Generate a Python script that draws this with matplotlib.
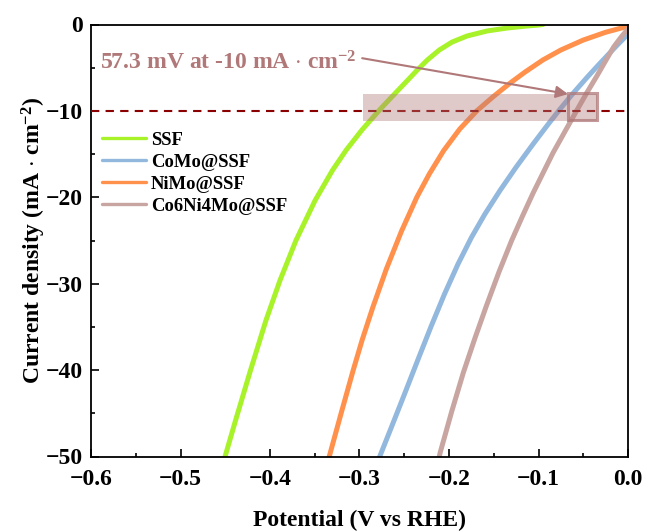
import matplotlib
matplotlib.use("Agg")
import matplotlib.pyplot as plt
from matplotlib.patches import Rectangle
from matplotlib.ticker import MultipleLocator

# LSV curves (potential in V vs RHE, current density in mA cm^-2)
ssf_v = [-0.095, -0.1017, -0.1127, -0.1351, -0.1574, -0.1798, -0.1965, -0.2108, -0.2242, -0.2354,
         -0.2460, -0.2567, -0.2673, -0.2771, -0.2974, -0.3149, -0.3301, -0.3495, -0.3709,
         -0.3888, -0.4045, -0.4218, -0.4385, -0.4502, -0.4506]
ssf_j = [0.0, -0.08, -0.17, -0.41, -0.75, -1.33, -2.03, -2.95, -4.11, -5.27,
         -6.43, -7.59, -8.75, -9.83, -12.22, -14.54, -16.86, -20.34, -24.97,
         -29.61, -34.24, -40.03, -45.83, -50.0, -50.5]

como_v = [0.0, -0.010, -0.020, -0.033, -0.046, -0.060, -0.076, -0.090, -0.106, -0.125, -0.143,
          -0.160, -0.175, -0.190, -0.205, -0.220, -0.235, -0.250, -0.265, -0.277, -0.280]
como_j = [-1.12, -2.17, -3.25, -4.68, -6.15, -7.8, -9.8, -11.65, -13.83, -16.51, -19.21,
          -21.96, -24.66, -27.74, -31.19, -34.94, -38.87, -42.85, -46.78, -49.9, -50.7]

nimo_v = [0.0, -0.025, -0.050, -0.075, -0.095, -0.115, -0.132, -0.150, -0.169, -0.188,
          -0.206, -0.222, -0.236, -0.253, -0.270, -0.285, -0.297, -0.307, -0.320, -0.333, -0.336]
nimo_j = [-0.2, -0.9, -1.8, -2.95, -4.1, -5.5, -6.8, -8.3, -10.0, -12.1,
          -14.6, -17.3, -20.0, -23.9, -28.3, -32.7, -36.5, -40.0, -44.8, -49.7, -50.8]

coni_v = [0.0, -0.008, -0.016, -0.025, -0.035, -0.046, -0.057, -0.070, -0.084, -0.095,
          -0.106, -0.118, -0.130, -0.144, -0.158, -0.171, -0.184, -0.197, -0.210, -0.212]
coni_j = [-0.5, -1.5, -2.6, -4.2, -6.0, -7.9, -9.9, -12.3, -14.9, -17.2,
          -19.5, -22.2, -25.0, -28.6, -32.5, -36.3, -40.3, -44.8, -49.6, -50.6]

labels = ["SSF", "CoMo@SSF", "NiMo@SSF", "Co6Ni4Mo@SSF"]
colors = ["#A8F22A", "#92B8DE", "#FF914D", "#C8A5A0"]

plt.rcParams["font.family"] = ["Liberation Serif", "DejaVu Serif"]
plt.rcParams["font.weight"] = "bold"
plt.rcParams["mathtext.fontset"] = "custom"
plt.rcParams["mathtext.rm"] = "Liberation Serif:bold"
plt.rcParams["mathtext.bf"] = "Liberation Serif:bold"
plt.rcParams["mathtext.it"] = "Liberation Serif:bold:italic"

fig = plt.figure(figsize=(6.46, 5.32), dpi=100)
ax = fig.add_axes([91/646, 1-456.5/532, 537/646, 432/532])

curves = [(ssf_v, ssf_j), (como_v, como_j), (nimo_v, nimo_j), (coni_v, coni_j)]
for (v, j), lab, c in zip(curves, labels, colors):
  ax.plot(v, j, color=c, lw=3.6, label=lab, solid_capstyle="round", solid_joinstyle="round", zorder=2)

# -10 mA cm^-2 reference line
ax.axhline(-10, color="#8B0000", lw=1.5, dashes=(4, 3), zorder=3)

# highlight band and marker square
ax.add_patch(Rectangle((-0.296, -11.15), 0.261, 3.1, facecolor="#B07878", alpha=0.4, edgecolor="none", zorder=4))
ax.add_patch(Rectangle((-0.067, -11.07), 0.032, 3.17, facecolor="none", edgecolor="#B07878", alpha=0.75, lw=2.2, zorder=5))

ax.text(-0.590, -5.2, r"57.3 mV at -10 mA $\cdot$ cm$^{-2}$", color="#B07878", fontsize=17,
        fontweight="bold", va="baseline", ha="left")
ax.annotate("", xy=(-0.067, -8.05), xytext=(-0.297, -3.9),
            arrowprops=dict(arrowstyle="-|>", color="#B07878", lw=1.5, mutation_scale=18, shrinkA=0, shrinkB=0))

ax.set_xlim(-0.6, 0.0)
ax.set_ylim(-50, 0)
ax.xaxis.set_major_locator(MultipleLocator(0.1))
ax.xaxis.set_minor_locator(MultipleLocator(0.05))
ax.yaxis.set_major_locator(MultipleLocator(10))
ax.yaxis.set_minor_locator(MultipleLocator(5))
ax.tick_params(which="both", direction="in", top=False, right=False, width=1.2, labelsize=17)
ax.tick_params(which="major", length=6, pad=6)
ax.tick_params(which="minor", length=3)
ax.tick_params(axis="x", which="major", pad=9)
for s in ax.spines.values():
  s.set_linewidth(1.3)

ax.set_xlabel("Potential (V vs RHE)", fontsize=17, fontweight="bold", labelpad=14)
ax.set_ylabel(r"Current density (mA $\cdot$ cm$^{-2}$)", fontsize=17, fontweight="bold", labelpad=-2)

leg = ax.legend(loc="upper left", bbox_to_anchor=(0.02, 0.752), frameon=False, fontsize=13.4,
                handlelength=2.4, handletextpad=0.25, labelspacing=0.27, borderpad=0, borderaxespad=0)
for line in leg.get_lines():
  line.set_linewidth(2.4)

plt.savefig("out.png", dpi=100)
